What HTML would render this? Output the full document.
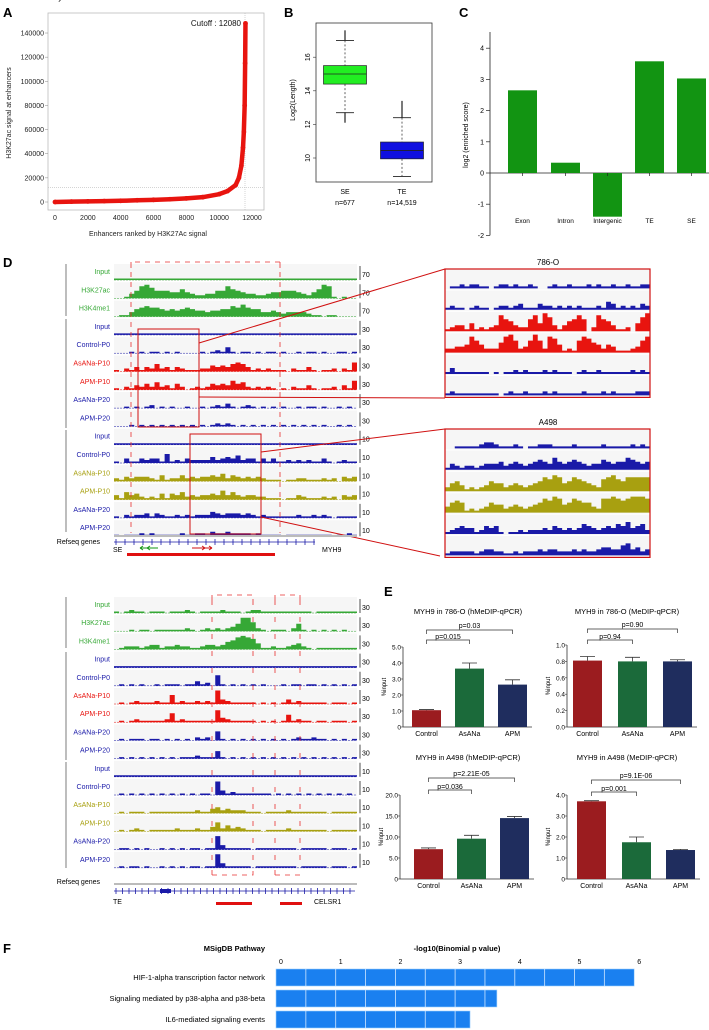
<!DOCTYPE html>
<html><head><meta charset="utf-8"><style>
body{margin:0;background:#fff;}
svg{display:block;font-family:"Liberation Sans",Arial,sans-serif;}
</style></head><body>
<svg id="fig" width="709" height="1030" viewBox="0 0 709 1030" xmlns="http://www.w3.org/2000/svg">
<g id="gA"></g>
<g id="gB"></g>
<g id="gC"></g>
<g id="gD"></g>
<g id="gE"></g>
<g id="gF"></g>
</svg>
<script>
// ---------- Panel A data ----------
const aRanks = [0,1000,2000,3000,4000,5000,6000,7000,8000,9000,10000,10500,11000,11200,11350,11450,11500,11550,11580,11600];
const aSignal = [0,300,500,750,1000,1400,1800,2300,3000,4000,6500,9000,14000,20000,30000,45000,58000,80000,115000,148000];
const aYTicks = [0,20000,40000,60000,80000,100000,120000,140000];
const aXTicks = [0,2000,4000,6000,8000,10000,12000];
const aCutoff = 12080;
// ---------- Panel B data ----------
const bGroups = ["SE","TE"];
const bCounts = ["n=677","n=14,519"];
const bQ1 = [14.4,9.95];
const bMedian = [15.0,10.45];
const bQ3 = [15.5,10.95];
const bWhiskLo = [12.7,8.9];
const bWhiskHi = [17.0,12.4];
const bOutLo = [12.1,8.9];
const bOutHi = [17.6,13.4];
const bTicks = [10,12,14,16];
// ---------- Panel C data ----------
const cCats = ["Exon","Intron","Intergenic","TE","SE"];
const cVals = [2.65,0.33,-1.4,3.58,3.03];
const cTicks = [-2,-1,0,1,2,3,4];
// ---------- Panel E data ----------
const eGroups = ["Control","AsANa","APM"];
const e1Vals = [1.05,3.65,2.65]; const e1Err=[0.04,0.35,0.3]; const e1Ticks=[0,1,2,3,4,5];
const e2Vals = [0.81,0.80,0.80]; const e2Err=[0.05,0.05,0.02]; const e2Ticks=[0,0.2,0.4,0.6,0.8,1.0];
const e3Vals = [7.1,9.6,14.5]; const e3Err=[0.3,0.8,0.4]; const e3Ticks=[0,5,10,15,20];
const e4Vals = [3.7,1.75,1.38]; const e4Err=[0.03,0.25,0.03]; const e4Ticks=[0,1,2,3,4];
// ---------- Panel F data ----------
const fPathways = ["HIF-1-alpha transcription factor network","Signaling mediated by p38-alpha and p38-beta","IL6-mediated signaling events"];
const fVals = [6.0,3.7,3.25];
const fTicks = [0,1,2,3,4,5,6];
// ---------- Panel D track data (heights 0-9 per bin) ----------
const dLabels = ["Input","H3K27ac","H3K4me1","Input","Control-P0","AsANa-P10","APM-P10","AsANa-P20","APM-P20","Input","Control-P0","AsANa-P10","APM-P10","AsANa-P20","APM-P20"];
const dScales1 = ["70","70","70","30","30","30","30","30","30","10","10","10","10","10","10"];
const dScales2 = ["30","30","30","30","30","30","30","30","30","10","10","10","10","10","10"];
const dTracks1 = [
"111111111111111111111111111111111111111111111111",
"001358975554464322335586543322344555432469810100",
"011356766545456544344557686553343233332110110000",
"111111111111111111111111111111111111111111111111",
"000101011010100001012141011010110100101101001101",
"102131325231321112243435653121211102113101120216",
"102132425231420121243436452121210102113101120316",
"001010120101001001012131012101010100101101001010",
"000101010101010101012121010101010101010101001010",
"111111111111111111111111111111111111111111111111",
"103113233161213222242343523313131121212113101211",
"213233321412242323343524323232111011221112120323",
"315342121414352323343635323322111011321112120323",
"102122313211212122243233323212111111211212101111",
"101112121111121122132232222121111011111111101121"];
const dTracks2 = [
"101211011101112101111211101221111111111011111111",
"000101101111112101212123599621011102510101010100",
"012221233122322112332356898741121123421011111111",
"111111111111111111111111111111111111111111111111",
"010101001011101131207101010101000101101101010101",
"010121112116121121219321111101010131211111011101",
"010121111126121111118321111101010151211011011101",
"010111011010101021206101010101010101211211010101",
"010101010101011121115101010101010101010101010101",
"111111111111111111111111111111111111111111111111",
"010101010101010101109312111111101010101010101010",
"010111011111111121134232221110111121111111011111",
"010121011111211121136242321110111121111111011111",
"011010100101010110119311111011111111011111011101",
"010110100101010110119311111011111111011111011101"];
const dZoom1 = [
"011212211012212112100121121112121121121122",
"121101211012212311132212121211121431212132",
"123314121238653226849731356860286531120479",
"223348642225896236962874121687542431112368",
"131111111010112121112121110121121111112121",
"121111111110121121112121111121112121111222"];
const dZoom2 = [
"001111123321112101122211112111112111112121",
"132122123334234323454364345432335434465434",
"245312123544234323457687457654326786577777",
"356512123544234323457687457655327787678887",
"123433124341011212223243232354323435463452",
"122222123322112122232332223232234433563423"];

const NS="http://www.w3.org/2000/svg";
function mk(parent,tag,attrs,text){const e=document.createElementNS(NS,tag);for(const k in attrs)e.setAttribute(k,attrs[k]);if(text!==undefined)e.textContent=text;parent.appendChild(e);return e;}

// ================= Panel A =================
(function(){
const g=document.getElementById('gA');
const xA=v=>55+v*0.01642, yA=v=>202-v*0.001207;
let t=mk(g,'text',{x:3,y:17,'font-size':13,'font-weight':'bold'},'A');


let f=mk(g,'rect',{x:48,y:13,width:216,height:197,fill:'none',stroke:'#bbb','stroke-width':0.8});


mk(g,'line',{x1:48,x2:264,y1:yA(aCutoff),y2:yA(aCutoff),stroke:'#bbb','stroke-dasharray':'1,1','stroke-width':0.6});
mk(g,'line',{x1:245,x2:245,y1:13,y2:210,stroke:'#bbb','stroke-dasharray':'1,1','stroke-width':0.6});
aYTicks.forEach(v=>{const tt=mk(g,'text',{x:44,y:yA(v)+2.5,'font-size':7,'text-anchor':'end',fill:'#222'},String(v));


mk(g,'line',{x1:45,x2:48,y1:yA(v),y2:yA(v),stroke:'#888','stroke-width':0.5});});
aXTicks.forEach(v=>{const tt=mk(g,'text',{x:xA(v),y:220,'font-size':7,'text-anchor':'middle',fill:'#222'},String(v));

});
let yl=mk(g,'text',{x:0,y:0,'font-size':7,'text-anchor':'middle',transform:'translate(11,113) rotate(-90)',fill:'#222'},'H3K27ac signal at enhancers');


let xl=mk(g,'text',{x:148,y:236,'font-size':7,'text-anchor':'middle',fill:'#222'},'Enhancers ranked by H3K27Ac signal');


let ct=mk(g,'text',{x:241,y:26,'font-size':8,'text-anchor':'end',fill:'#111'},'Cutoff : '+aCutoff);


const pts=aRanks.map((r,i)=>xA(r)+','+yA(aSignal[i])).join(' ');
let pl=mk(g,'polyline',{points:pts,fill:'none',stroke:'#e8140f','stroke-width':4.5,'stroke-linejoin':'round'});


aRanks.forEach((r,i)=>{const c=mk(g,'circle',{cx:xA(r),cy:yA(aSignal[i]),r:2.4,fill:'#e8140f'});

});
})();

// ================= Panel B =================
(function(){
const g=document.getElementById('gB');
const yB=v=>158-(v-10)*16.8;
const cx=[345,402], w=43, fills=['#22ee22','#1010e0'];
let t=mk(g,'text',{x:284,y:17,'font-size':13,'font-weight':'bold'},'B');


mk(g,'rect',{x:316,y:23,width:116,height:159,fill:'none',stroke:'#333','stroke-width':0.8});
bTicks.forEach(v=>{mk(g,'line',{x1:313,x2:316,y1:yB(v),y2:yB(v),stroke:'#333','stroke-width':0.6});
const tt=mk(g,'text',{x:0,y:0,'font-size':7,'text-anchor':'middle',transform:`translate(310,${yB(v)}) rotate(-90)`},String(v));

});
let yl=mk(g,'text',{x:0,y:0,'font-size':7,'text-anchor':'middle',transform:'translate(295,100) rotate(-90)'},'Log2(Length)');


bGroups.forEach((gr,i)=>{const x=cx[i];
mk(g,'line',{x1:x,x2:x,y1:yB(bWhiskHi[i]),y2:yB(bQ3[i]),stroke:'#222','stroke-dasharray':'2,2','stroke-width':0.7});
mk(g,'line',{x1:x,x2:x,y1:yB(bQ1[i]),y2:yB(bWhiskLo[i]),stroke:'#222','stroke-dasharray':'2,2','stroke-width':0.7});
mk(g,'line',{x1:x-9,x2:x+9,y1:yB(bWhiskHi[i]),y2:yB(bWhiskHi[i]),stroke:'#222','stroke-width':0.9});
mk(g,'line',{x1:x-9,x2:x+9,y1:yB(bWhiskLo[i]),y2:yB(bWhiskLo[i]),stroke:'#222','stroke-width':0.9});
mk(g,'line',{x1:x,x2:x,y1:yB(bOutHi[i]),y2:yB(bWhiskHi[i]),stroke:'#222','stroke-width':1.2});
mk(g,'line',{x1:x,x2:x,y1:yB(bWhiskLo[i]),y2:yB(bOutLo[i]),stroke:'#222','stroke-width':1.2});
const b=mk(g,'rect',{x:x-w/2,y:yB(bQ3[i]),width:w,height:yB(bQ1[i])-yB(bQ3[i]),fill:fills[i],stroke:'#222','stroke-width':0.7});


mk(g,'line',{x1:x-w/2,x2:x+w/2,y1:yB(bMedian[i]),y2:yB(bMedian[i]),stroke:'#222','stroke-width':0.8});
const l=mk(g,'text',{x:x,y:194,'font-size':7,'text-anchor':'middle'},gr);


const n=mk(g,'text',{x:x,y:205,'font-size':7,'text-anchor':'middle'},bCounts[i]);

});
})();

// ================= Panel C =================
(function(){
const g=document.getElementById('gC');
const yC=v=>173-v*31.2;
const x0=[508,551,593,635,677];
let t=mk(g,'text',{x:459,y:17,'font-size':13,'font-weight':'bold'},'C');


mk(g,'line',{x1:490,x2:490,y1:32,y2:yC(-2),stroke:'#222','stroke-width':0.8});
mk(g,'line',{x1:490,x2:709,y1:yC(0),y2:yC(0),stroke:'#222','stroke-width':0.8});
cTicks.forEach(v=>{mk(g,'line',{x1:486,x2:490,y1:yC(v),y2:yC(v),stroke:'#222','stroke-width':0.7});
const tt=mk(g,'text',{x:484,y:yC(v)+2.5,'font-size':7,'text-anchor':'end'},String(v));

});
let yl=mk(g,'text',{x:0,y:0,'font-size':7,'text-anchor':'middle',transform:'translate(468,135) rotate(-90)'},'log2 (enriched score)');


cCats.forEach((c,i)=>{const v=cVals[i];
const r=mk(g,'rect',{x:x0[i],y:Math.min(yC(v),yC(0)),width:29,height:Math.abs(yC(v)-yC(0)),fill:'#129412'});


mk(g,'line',{x1:x0[i]+14.5,x2:x0[i]+14.5,y1:yC(0),y2:yC(0)+3,stroke:'#222','stroke-width':0.7});
const l=mk(g,'text',{x:x0[i]+14.5,y:223,'font-size':6.5,'text-anchor':'middle'},c);

});
})();

// ================= Panel D =================
(function(){
const g=document.getElementById('gD');
const colorsTop=['#36a836','#36a836','#36a836','#1a1aa8','#1a1aa8','#e8140f','#e8140f','#1a1aa8','#1a1aa8','#1a1aa8','#1a1aa8','#a8a010','#a8a010','#1a1aa8','#1a1aa8'];
let t=mk(g,'text',{x:3,y:267,'font-size':13,'font-weight':'bold'},'D');


function drawTracks(data,scales,textY0,step,groupY){
  data.forEach((s,i)=>{
    const ty=textY0+i*step, base=ty+9;
    mk(g,'rect',{x:114,y:ty-7,width:243,height:17,fill:'#f6f6f6'});
    const lb=mk(g,'text',{x:110,y:ty+3,'font-size':7,'text-anchor':'end',fill:colorsTop[i]},dLabels[i]);
    
    
    const bw=243/s.length;
    let d=`M114,${base}`;
    for(let k=0;k<s.length;k++){const h=(+s[k])*1.5;d+=` L${114+k*bw},${base-h} L${114+(k+1)*bw},${base-h}`;}
    d+=` L357,${base} Z`;
    const p=mk(g,'path',{d:d,fill:colorsTop[i]});
    
    
    mk(g,'line',{x1:114,x2:357,y1:base,y2:base,stroke:colorsTop[i],'stroke-width':0.5,'stroke-dasharray':'2,1'});
    mk(g,'line',{x1:360,x2:360,y1:ty-5,y2:ty+9,stroke:'#222','stroke-width':0.8});
    const sc=mk(g,'text',{x:362,y:ty+6,'font-size':7},scales[i]);
    
    
  });
  const names=['Adult kidney','786-O','A498'];
  groupY.forEach((gy,j)=>{
    const gl=mk(g,'text',{x:62,y:gy[2],'font-size':7,'text-anchor':'end'},names[j]);
    
    
    mk(g,'line',{x1:66,x2:66,y1:gy[0],y2:gy[1],stroke:'#444','stroke-width':0.7});
  });
}
drawTracks(dTracks1,dScales1,271,18.3,[[264,316],[319,428],[430,532]]);
drawTracks(dTracks2,dScales2,604,18.2,[[597,648],[652,760],[762,868]]);
// upper dashed region and zoom boxes
mk(g,'path',{d:'M131,268 V262 H280 V268 M131,262 V533 M280,262 V533',fill:'none',stroke:'#e83030','stroke-dasharray':'5,5','stroke-width':0.8});
const r1=mk(g,'rect',{x:138,y:329,width:61,height:98,fill:'none',stroke:'#d01010','stroke-width':1});


const r2=mk(g,'rect',{x:190,y:434,width:71,height:100,fill:'none',stroke:'#d01010','stroke-width':1});


[[199,343,445,269],[199,397,445,398],[261,452,445,429],[261,517,440,556]].forEach(l=>mk(g,'line',{x1:l[0],y1:l[1],x2:l[2],y2:l[3],stroke:'#d01010','stroke-width':1}));
function zoomBox(data,cols,y0,title){
  const zt=mk(g,'text',{x:548,y:y0-4,'font-size':8,'text-anchor':'middle'},title);
  
  
  const rh=21.4;
  data.forEach((s,i)=>{const base=y0+(i+1)*rh-2;const bw=205/s.length;
    let d=`M445,${base}`;
    for(let k=0;k<s.length;k++){const h=(+s[k])*2;d+=` L${445+k*bw},${base-h} L${445+(k+1)*bw},${base-h}`;}
    d+=` L650,${base} Z`;
    mk(g,'rect',{x:445,y:base-rh+2,width:205,height:rh-1,fill:'#f6f6f6'});
    const p=mk(g,'path',{d:d,fill:cols[i]});
    
    });
  const b=mk(g,'rect',{x:445,y:y0,width:205,height:rh*6,fill:'none',stroke:'#d01010','stroke-width':1.2});
  
  
}
zoomBox(dZoom1,['#1a1aa8','#1a1aa8','#e8140f','#e8140f','#1a1aa8','#1a1aa8'],269,'786-O');
zoomBox(dZoom2,['#1a1aa8','#1a1aa8','#a8a010','#a8a010','#1a1aa8','#1a1aa8'],429,'A498');
// refseq upper
mk(g,'rect',{x:114,y:535,width:243,height:2,fill:'#bbb'});
let rs=mk(g,'text',{x:100,y:544,'font-size':7,'text-anchor':'end'},'Refseq genes');


mk(g,'line',{x1:114,x2:315,y1:542,y2:542,stroke:'#1a1aa8','stroke-width':0.7});
for(let x=116;x<315;x+=9)mk(g,'line',{x1:x,x2:x,y1:539,y2:545,stroke:'#1a1aa8','stroke-width':0.8});
let se=mk(g,'text',{x:113,y:552,'font-size':7},'SE');
let my=mk(g,'text',{x:322,y:552,'font-size':7},'MYH9');
mk(g,'path',{d:'M140,548 H158 M140,548 l3,-2 M140,548 l3,2 M147,548 l3,-2 M147,548 l3,2',stroke:'#129412','stroke-width':1,fill:'none'});
mk(g,'path',{d:'M192,548 H212 M212,548 l-3,-2 M212,548 l-3,2 M205,548 l-3,-2 M205,548 l-3,2',stroke:'#d01010','stroke-width':1,fill:'none'});
let rb=mk(g,'rect',{x:127,y:553,width:148,height:3,fill:'#e01010'});
// lower dashed
mk(g,'path',{d:'M212,600 V595 H253 V600 M275,600 V595 H300 V600 M212,875 V870 M212,875 H253 V870 M275,875 V870 M275,875 H300 V870',fill:'none',stroke:'#e83030','stroke-dasharray':'5,5','stroke-width':0.8});
[212,253,275,300].forEach(x=>mk(g,'line',{x1:x,x2:x,y1:600,y2:866,stroke:'#e83030','stroke-dasharray':'5,12','stroke-width':0.8}));
mk(g,'rect',{x:114,y:883,width:243,height:2,fill:'#bbb'});
let rs2=mk(g,'text',{x:100,y:884,'font-size':7,'text-anchor':'end'},'Refseq genes');
mk(g,'line',{x1:114,x2:355,y1:891,y2:891,stroke:'#1a1aa8','stroke-width':0.7});
mk(g,'rect',{x:160,y:889,width:11,height:4,fill:'#1a1aa8'});
for(let x=116;x<355;x+=6.5)mk(g,'line',{x1:x,x2:x,y1:888,y2:894,stroke:'#1a1aa8','stroke-width':0.8});
let te=mk(g,'text',{x:113,y:904,'font-size':7},'TE');
let ce=mk(g,'text',{x:314,y:904,'font-size':7},'CELSR1');
mk(g,'rect',{x:216,y:902,width:36,height:3,fill:'#e01010'});
mk(g,'rect',{x:280,y:902,width:22,height:3,fill:'#e01010'});
})();

// ================= Panel E =================
(function(){
const g=document.getElementById('gE');
const cols=['#9b1c1f','#1b6a3a','#1f2d5e'];
let t=mk(g,'text',{x:384,y:596,'font-size':13,'font-weight':'bold'},'E');


function chart(o){
  const y=v=>o.y0-v*o.k;
  const tt=mk(g,'text',{x:o.tx,y:o.ty,'font-size':7.5,'text-anchor':'middle'},o.title);
  
  
  mk(g,'line',{x1:o.ax,x2:o.ax,y1:y(o.ticks[o.ticks.length-1]),y2:o.y0,stroke:'#333','stroke-width':0.8});
  mk(g,'line',{x1:o.ax,x2:o.bx[2]+34,y1:o.y0,y2:o.y0,stroke:'#333','stroke-width':0.8});
  o.ticks.forEach(v=>{mk(g,'line',{x1:o.ax-2,x2:o.ax,y1:y(v),y2:y(v),stroke:'#333','stroke-width':0.6});
    const l=mk(g,'text',{x:o.ax-2,y:y(v)+2.5,'font-size':6.5,'text-anchor':'end'},o.fmt(v));
    
    });
  const yl=mk(g,'text',{x:0,y:0,'font-size':6,'text-anchor':'middle',transform:`translate(${o.ax-17},${(o.y0+y(o.ticks[o.ticks.length-1]))/2}) rotate(-90)`},'%input');
  
  
  eGroups.forEach((gr,i)=>{const x=o.bx[i],v=o.vals[i],e=o.err[i];
    const r=mk(g,'rect',{x:x,y:y(v),width:29,height:o.y0-y(v),fill:cols[i]});
    
    
    mk(g,'path',{d:`M${x+14.5},${y(v)} V${y(v+e)} M${x+7},${y(v+e)} H${x+22}`,stroke:'#333','stroke-width':0.8,fill:'none'});
    const l=mk(g,'text',{x:x+14.5,y:o.y0+9,'font-size':7,'text-anchor':'middle'},gr);
    
    });
  const c0=o.bx[0]+14.5,c1=o.bx[1]+14.5,c2=o.bx[2]+14.5;
  mk(g,'path',{d:`M${c0},${o.b1+4} V${o.b1} H${c2} V${o.b1+4} M${c0},${o.b2+4} V${o.b2} H${c1} V${o.b2+4}`,stroke:'#333','stroke-width':0.7,fill:'none'});
  const p1=mk(g,'text',{x:(c0+c2)/2,y:o.b1-2,'font-size':7,'text-anchor':'middle'},o.p1);
  
  
  const p2=mk(g,'text',{x:(c0+c1)/2,y:o.b2-1,'font-size':7,'text-anchor':'middle'},o.p2);
  
  
}
const f1=v=>v===0?'0':v.toFixed(1);
chart({title:'MYH9 in 786-O (hMeDIP-qPCR)',tx:468,ty:614,ax:403,y0:727,k:16,ticks:e1Ticks,fmt:f1,bx:[412,455,498],vals:e1Vals,err:e1Err,b1:630,b2:640,p1:'p=0.03',p2:'p=0.015'});
chart({title:'MYH9 in 786-O (MeDIP-qPCR)',tx:627,ty:614,ax:567,y0:727,k:82,ticks:e2Ticks,fmt:v=>v.toFixed(1),bx:[573,618,663],vals:e2Vals,err:e2Err,b1:629,b2:640,p1:'p=0.90',p2:'p=0.94'});
chart({title:'MYH9 in A498 (hMeDIP-qPCR)',tx:468,ty:760,ax:400,y0:879,k:4.2,ticks:e3Ticks,fmt:f1,bx:[414,457,500],vals:e3Vals,err:e3Err,b1:778,b2:790,p1:'p=2.21E-05',p2:'p=0.036'});
chart({title:'MYH9 in A498 (MeDIP-qPCR)',tx:627,ty:760,ax:567,y0:879,k:21,ticks:e4Ticks,fmt:f1,bx:[577,622,666],vals:e4Vals,err:e4Err,b1:780,b2:792,p1:'p=9.1E-06',p2:'p=0.001'});
})();

// ================= Panel F =================
(function(){
const g=document.getElementById('gF');
const xF=v=>276+v*59.7;
let t=mk(g,'text',{x:3,y:953,'font-size':13,'font-weight':'bold'},'F');


let h1=mk(g,'text',{x:265,y:951,'font-size':7.5,'font-weight':'bold','text-anchor':'end'},'MSigDB Pathway');


let h2=mk(g,'text',{x:457,y:951,'font-size':7.5,'font-weight':'bold','text-anchor':'middle'},'-log10(Binomial p value)');


fTicks.forEach(v=>{const l=mk(g,'text',{x:xF(v)+5,y:964,'font-size':7,'text-anchor':'middle'},String(v));

});
fPathways.forEach((p,i)=>{const y0=969+i*21;
  const l=mk(g,'text',{x:265,y:y0+11,'font-size':7.5,'text-anchor':'end'},p);
  
  
  const r=mk(g,'rect',{x:xF(0),y:y0,width:xF(fVals[i])-xF(0),height:17,fill:'#1a80f0',stroke:'#9cd0ff','stroke-width':0.6});
  
  
  for(let v=0.5;v<fVals[i]-0.05;v+=0.5)mk(g,'line',{x1:xF(v),x2:xF(v),y1:y0,y2:y0+17,stroke:'#cfe6ff','stroke-width':0.8});
});
})();
</script>
</body></html>
